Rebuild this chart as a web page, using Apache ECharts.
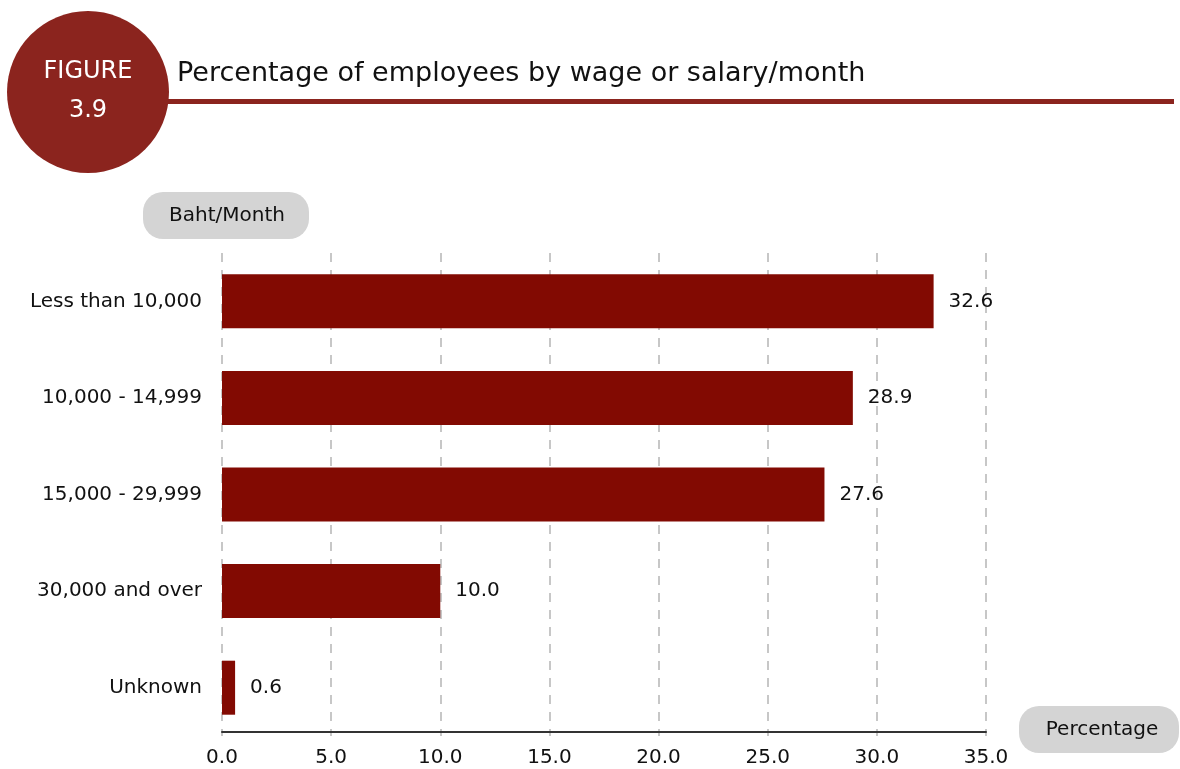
<!DOCTYPE html>
<html>
<head>
<meta charset="utf-8">
<script src="https://cdn.jsdelivr.net/npm/echarts@6/dist/echarts.min.js"></script>
<style>
  html, body { margin: 0; padding: 0; background: #fff; }
  #chart { width: 1180px; height: 769px; }
</style>
</head>
<body>
<div id="chart"></div>
<script>
// 数据
const categories = ['Less than 10,000', '10,000 - 14,999', '15,000 - 29,999', '30,000 and over', 'Unknown'];
const percentValues = [32.6, 28.9, 27.6, 10.0, 0.6];
const tickLabels = ['0.0', '5.0', '10.0', '15.0', '20.0', '25.0', '30.0', '35.0'];

const FONT = '"DejaVu Sans"';
const RED = '#8b241e';

const chart = echarts.init(document.getElementById('chart'));

chart.setOption({
    animation: false,
    textStyle: { fontFamily: FONT },
    grid: { left: 222, right: 194, top: 253, bottom: 33 },
    xAxis: {
        type: 'value',
        min: 0,
        max: 35,
        interval: 5,
        offset: -4,
        axisLine: { show: true, lineStyle: { color: '#333', width: 2 } },
        axisTick: { show: false },
        axisLabel: {
            color: '#111',
            fontSize: 20,
            fontFamily: FONT,
            margin: 16,
            formatter: (v) => tickLabels[Math.round(v / 5)]
        },
        splitLine: { show: true, lineStyle: { color: '#b5b5b5', type: [9, 8], width: 1.5 } }
    },
    yAxis: {
        type: 'category',
        inverse: true,
        data: categories,
        axisLine: { show: false },
        axisTick: { show: false },
        axisLabel: { color: '#111', fontSize: 20, fontFamily: FONT, margin: 20 }
    },
    series: [{
        type: 'bar',
        data: percentValues,
        barWidth: 54,
        itemStyle: { color: '#820a02' },
        label: {
            show: true,
            position: 'right',
            distance: 15,
            color: '#111',
            fontSize: 20,
            fontFamily: FONT,
            formatter: (p) => p.value.toFixed(1)
        }
    }],
    graphic: [
        // 标题红线
        { type: 'rect', shape: { x: 160, y: 99, width: 1014, height: 5 }, style: { fill: RED } },
        // 圆形标记
        { type: 'circle', shape: { cx: 88, cy: 92, r: 81 }, style: { fill: RED } },
        { type: 'text', x: 88, y: 72, style: { text: 'FIGURE', fill: '#fff', font: '24px ' + FONT, align: 'center', verticalAlign: 'middle' } },
        { type: 'text', x: 88, y: 111, style: { text: '3.9', fill: '#fff', font: '24px ' + FONT, align: 'center', verticalAlign: 'middle' } },
        { type: 'text', x: 177, y: 74, style: { text: 'Percentage of employees by wage or salary/month', fill: '#111', font: '27px ' + FONT, verticalAlign: 'middle' } },
        // 坐标轴名称
        { type: 'rect', shape: { x: 143, y: 192, width: 166, height: 47, r: 20 }, style: { fill: '#d4d4d4' } },
        { type: 'text', x: 227, y: 216, style: { text: 'Baht/Month', fill: '#111', font: '20px ' + FONT, align: 'center', verticalAlign: 'middle' } },
        { type: 'rect', shape: { x: 1019, y: 706, width: 160, height: 47, r: 20 }, style: { fill: '#d4d4d4' } },
        { type: 'text', x: 1102, y: 730, style: { text: 'Percentage', fill: '#111', font: '20px ' + FONT, align: 'center', verticalAlign: 'middle' } }
    ]
});
</script>
</body>
</html>
